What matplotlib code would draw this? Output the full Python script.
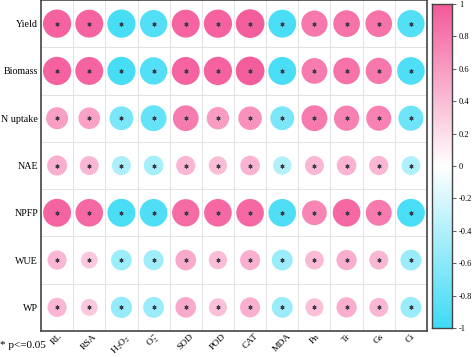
import numpy as np
import matplotlib
matplotlib.use("Agg")
import matplotlib.pyplot as plt
from matplotlib.colors import LinearSegmentedColormap, Normalize

rows = ["Yield", "Biomass", "N uptake", "NAE", "NPFP", "WUE", "WP"]
cols = ["RL", "RSA", r"H$_2$O$_2$", r"O$_2^{-}$", "SOD", "POD", "CAT", "MDA", "Pn", "Tr", "Gs", "Ci"]

yield_r   = [0.95, 0.93, -0.95, -0.89, 0.93, 0.95, 0.98, -0.93, 0.82, 0.85, 0.85, -0.89]
biomass_r = [0.95, 0.93, -0.95, -0.89, 0.93, 0.95, 0.98, -0.93, 0.79, 0.85, 0.82, -0.91]
nupt_r    = [0.58, 0.56, -0.68, -0.80, 0.79, 0.60, 0.66, -0.68, 0.80, 0.76, 0.75, -0.75]
nae_r     = [0.48, 0.43, -0.43, -0.46, 0.44, 0.40, 0.46, -0.40, 0.43, 0.46, 0.44, -0.42]
npfp_r    = [0.93, 0.91, -0.93, -0.91, 0.89, 0.91, 0.91, -0.91, 0.73, 0.91, 0.80, -0.93]
wue_r     = [0.44, 0.34, -0.51, -0.49, 0.51, 0.40, 0.48, -0.52, 0.42, 0.49, 0.43, -0.52]
wp_r      = [0.44, 0.34, -0.54, -0.52, 0.51, 0.39, 0.48, -0.52, 0.39, 0.49, 0.43, -0.52]

# all cells significant in the figure
signif = np.ones((7, 12), dtype=bool)

corr = np.array([yield_r, biomass_r, nupt_r, nae_r, npfp_r, wue_r, wp_r])

plt.rcParams['font.family'] = ['Liberation Serif', 'DejaVu Serif']
plt.rcParams['mathtext.fontset'] = 'stix'

cmap = LinearSegmentedColormap.from_list("pc", ["#3EDBF5", "#ffffff", "#F45A9A"])
norm = Normalize(-1, 1)

fig = plt.figure(figsize=(4.74, 3.57), dpi=100)
ax = fig.add_axes([41/474, 1-331/357, 386/474, 331/357])
cax = fig.add_axes([432/474, 1-328/357, 20/474, 324/357])

nr, nc = corr.shape
ax.set_xlim(-0.5, nc-0.5)
ax.set_ylim(nr-0.5, -0.5)

# grid lines at cell borders
for i in range(1, nc):
    ax.axvline(i-0.5, color="#e3e3e3", lw=0.7, zorder=0)
for j in range(1, nr):
    ax.axhline(j-0.5, color="#e3e3e3", lw=0.7, zorder=0)

cell_pt = 386 * 0.72 / nc
xx, yy = np.meshgrid(np.arange(nc), np.arange(nr))
sizes = (0.9 * np.sqrt(np.abs(corr)) * cell_pt) ** 2
ax.scatter(xx.ravel(), yy.ravel(), s=sizes.ravel(), c=corr.ravel(), cmap=cmap, norm=norm,
           edgecolors="none", zorder=2)
ax.scatter(xx[signif], yy[signif], s=5, marker=(6, 2, 0), color="#3a3a48", lw=0.8, zorder=3)

ax.set_xticks(np.arange(nc))
ax.set_xticklabels(cols, rotation=45, ha="center", va="top", fontsize=6.8)
ax.set_yticks(np.arange(nr))
ax.set_yticklabels(rows, fontsize=7.2)
ax.tick_params(axis="x", length=0, pad=1)
ax.tick_params(axis="y", length=0, pad=2)
for s in ax.spines.values():
    s.set_color("#444444")
    s.set_linewidth(1.2)

fig.text(0.0, 1-346/357, "* p<=0.05", fontsize=8, va="center", ha="left")

grad = np.linspace(-1, 1, 256).reshape(-1, 1)
cax.imshow(grad, cmap=cmap, norm=norm, aspect="auto", origin="lower", extent=[0, 1, -1, 1])
cax.set_xticks([])
cax.yaxis.tick_right()
ticks = [1, 0.8, 0.6, 0.4, 0.2, 0, -0.2, -0.4, -0.6, -0.8, -1]
cax.set_yticks(ticks)
cax.set_yticklabels([f"{t:g}" for t in ticks], fontsize=6)
cax.tick_params(axis="y", length=3, width=0.6, pad=2, color="#444444")
for s in cax.spines.values():
    s.set_color("#444444")
    s.set_linewidth(1.0)

fig.savefig("out.png", dpi=100)
